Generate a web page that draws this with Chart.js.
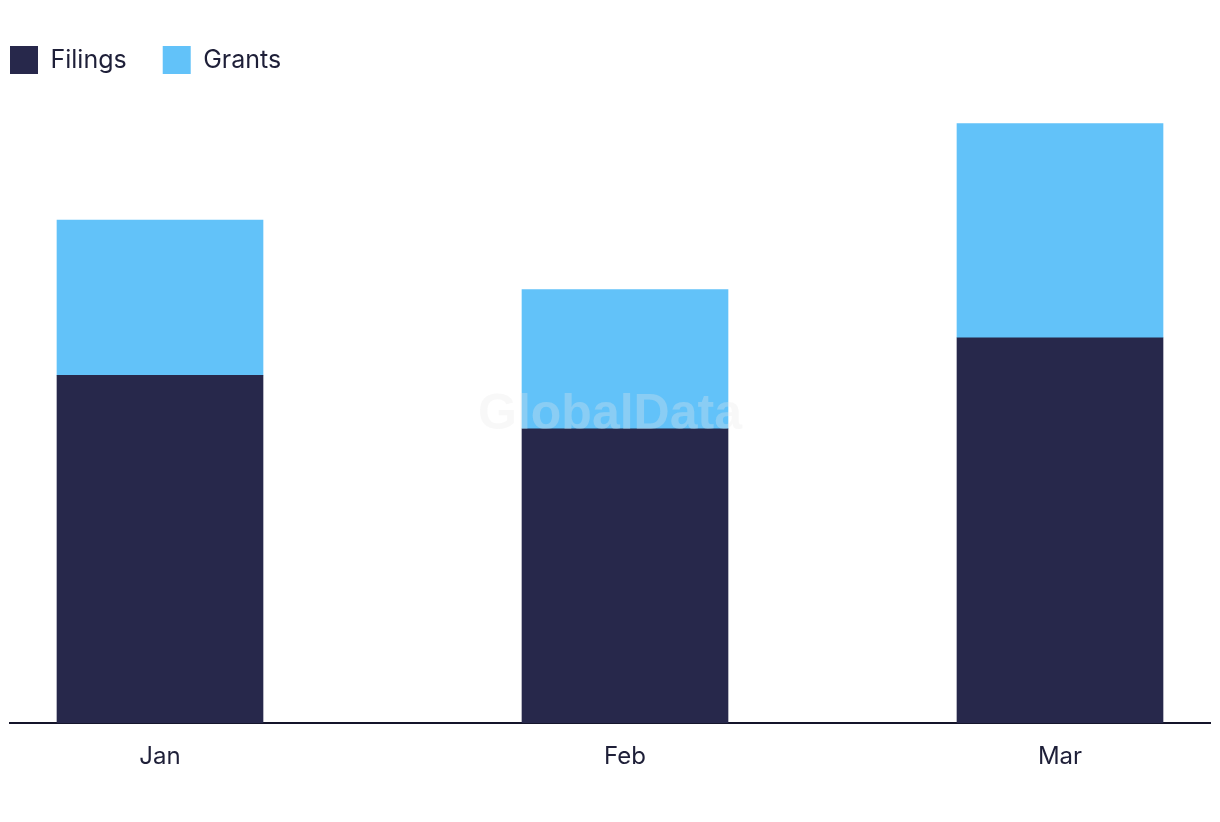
<!DOCTYPE html>
<html>
<head>
<meta charset="utf-8">
<script src="https://cdn.jsdelivr.net/npm/chart.js@4.4.1/dist/chart.umd.min.js"></script>
<style>
  html, body { margin: 0; padding: 0; background: #ffffff; }
  #wrap { width: 1220px; height: 822px; }
</style>
</head>
<body>
<div id="wrap"><canvas id="chart" width="1220" height="822"></canvas></div>
<script>
const months = ["Jan", "Feb", "Mar"];
const dates = ["2024-01-01", "2024-02-01", "2024-03-01"];
const filings = [65, 55, 72];
const grants = [29, 26, 40];

const navy = "#27284b";
const blue = "#62c2f9";
const textColor = "#1e1f38";

// x is a day count from the first month, so bars keep the real month spacing
const dayOf = d => (Date.parse(d) - Date.parse(dates[0])) / 86400000;
const days = dates.map(dayOf);
const toPoints = arr => arr.map((v, i) => ({ x: days[i], y: v }));

const watermark = {
    id: "watermark",
    afterDatasetsDraw(chart) {
        const ctx = chart.ctx;
        ctx.save();
        ctx.font = "bold 50px 'Liberation Sans', Arial, sans-serif";
        ctx.fillStyle = "rgba(232,232,232,0.3)";
        ctx.textAlign = "center";
        ctx.textBaseline = "alphabetic";
        ctx.fillText("GlobalData", 610, 429);
        ctx.restore();
    }
};

const ctx = document.getElementById("chart").getContext("2d");
const chart = new Chart(ctx, {
    type: "bar",
    data: {
        datasets: [
            { label: "Filings", data: toPoints(filings), backgroundColor: navy },
            { label: "Grants", data: toPoints(grants), backgroundColor: blue }
        ]
    },
    options: {
        responsive: false,
        animation: false,
        layout: { padding: { left: -26, right: 10, top: 10, bottom: 40 } },
        barThickness: 206,
        plugins: {
            legend: {
                position: "top",
                align: "start",
                labels: {
                    boxWidth: 28,
                    boxHeight: 28,
                    padding: 36,
                    color: textColor,
                    font: { family: "Inter", size: 25 }
                }
            },
            tooltip: { enabled: false }
        },
        scales: {
            x: {
                type: "linear",
                stacked: true,
                offset: false,
                min: -10,
                max: 70,
                grid: { display: false },
                border: { display: true, color: "#14142a", width: 2 },
                afterBuildTicks: axis => {
                    axis.ticks = days.map(d => ({ value: d }));
                },
                ticks: {
                    autoSkip: false,
                    maxRotation: 0,
                    padding: 11,
                    color: textColor,
                    font: { family: "Inter", size: 24 },
                    callback: v => months[days.indexOf(v)]
                }
            },
            y: {
                stacked: true,
                min: 0,
                max: 119.4,
                grid: { display: false },
                border: { display: false },
                ticks: { display: false },
                afterFit: axis => { axis.width = 36; }
            }
        }
    },
    plugins: [watermark]
});
</script>
</body>
</html>
